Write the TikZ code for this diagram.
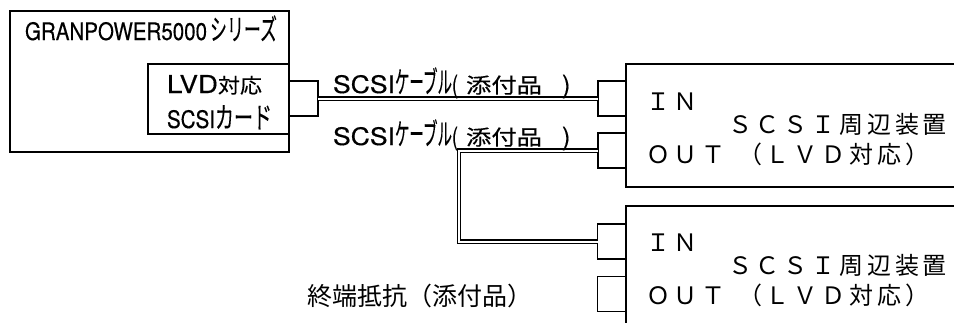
\documentclass[tikz,border=0pt]{standalone}
\usepackage{fontspec}
\usepackage{graphicx}
\setmainfont{Noto Sans CJK JP}
\newfontfamily\jpf[FakeBold=0.3]{Noto Sans CJK JP}
\newfontfamily\latf[FakeBold=0.4]{TeX Gyre Heros}
\newfontfamily\widefont[LetterSpace=16]{Noto Sans CJK JP}
% Latin piece: width, cap height
\newcommand{\latpiece}[3]{\resizebox{#1}{#2}{\latf\fontsize{25}{25}\selectfont #3}}
% Japanese piece: width, font size
\newcommand{\jppiece}[3]{\resizebox{#1}{\height}{\jpf\fontsize{#2}{#2}\selectfont #3}}
\tikzset{
  box/.style={draw, line width=1.8pt, inner sep=0pt, outer sep=0pt, anchor=north west},
  port/.style={draw, line width=1.8pt, inner sep=0pt, outer sep=0pt, minimum width=28pt, minimum height=35pt},
  cable/.style={double, line width=1.3pt, double distance=2pt},
  lbl/.style={anchor=base west, inner sep=0pt, outer sep=0pt},
  devtext/.style={lbl, font=\widefont\fontsize{24}{24}\selectfont},
}
\newcommand{\cablelabel}{\latpiece{62pt}{18pt}{SCSI}\jppiece{57pt}{30}{ケーブル}\resizebox{6pt}{\height}{\latf\fontsize{25}{25}\selectfont (}\hspace{8pt}\jppiece{76pt}{21}{添付品}\hspace{20pt}{\latf\fontsize{25}{25}\selectfont )}}
\begin{document}
\begin{tikzpicture}[x=1pt,y=-1pt]
\useasboundingbox (0,0) rectangle (954,322);
\clip (0,0) rectangle (954,322);
% host
\node[box, minimum width=279pt, minimum height=141pt] (main) at (10,11) {};
\node[box, minimum width=141pt, minimum height=70pt] (card) at (148,64) {};
\node[port, minimum width=29pt] (cardport) at (303.5,98.5) {};
\node[lbl] (hostlbl) at (25,40) {\latpiece{182pt}{18pt}{GRANPOWER5000}\hspace{3pt}\jppiece{67pt}{29}{シリーズ}};
\node[lbl] (cardlbl1) at (167,93) {\latpiece{51pt}{18pt}{LVD}\jppiece{44pt}{20.5}{対応}};
\node[lbl] (cardlbl2) at (167,128) {\latpiece{48pt}{18pt}{SCSI}\jppiece{57pt}{29}{カード}};
% device 1
\node[box, minimum width=340pt, minimum height=123pt] (dev1) at (626,64) {};
\node[port] (in1) at (612,98.5) {};
\node[port] (out1) at (612,150.5) {};
\node[devtext] (in1lbl) at (646,110) {ＩＮ};
\node[devtext] (dev1lbl) at (728,133) {ＳＣＳＩ周辺装置};
\node[devtext] (out1lbl) at (646,163) {ＯＵＴ};
\node[devtext] (dev1lvd) at (738,163) {（ＬＶＤ対応）};
% device 2
\node[box, minimum width=340pt, minimum height=130pt] (dev2) at (626,206) {};
\node[port] (in2) at (611.5,241.5) {};
\node[port] (out2) at (611.5,294) {};
\node[devtext] (in2lbl) at (646,251) {ＩＮ};
\node[devtext] (dev2lbl) at (728,274) {ＳＣＳＩ周辺装置};
\node[devtext] (out2lbl) at (646,304) {ＯＵＴ};
\node[devtext] (dev2lvd) at (738,304) {（ＬＶＤ対応）};
% cables
\draw[cable] (cardport.east) -- (in1.west);
\draw[cable] (out1.west) -- ++(-139,0) |- (in2.west);
\node[lbl] (cab1lbl) at (333,93) {\cablelabel};
\node[lbl] (cab2lbl) at (333,145) {\cablelabel};
\node[lbl, font=\fontsize{25}{25}\selectfont] (termlbl) at (307,305) {終端抵抗（添付品）};
\end{tikzpicture}
\end{document}
